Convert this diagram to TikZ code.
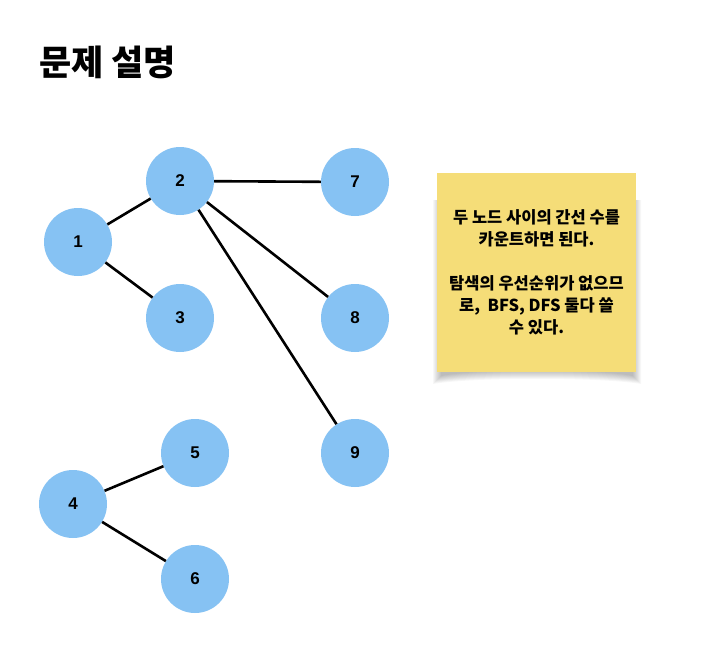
\documentclass[tikz,border=0pt]{standalone}
\usepackage{fontspec}
\setmainfont{Noto Sans CJK KR}
\newfontfamily\digitfont{Liberation Sans}
\definecolor{nodeblue}{RGB}{134,194,243}
\definecolor{stickyyellow}{RGB}{245,221,120}
\begin{document}
\begin{tikzpicture}[x=1pt,y=-1pt,
  vert/.style={circle,fill=nodeblue,minimum size=68pt,inner sep=0pt,font=\digitfont\fontsize{17}{19}\selectfont\bfseries},
  edge/.style={line width=2.6pt,black},
  shadowlayer/.style={fill=black,fill opacity=0.03,draw=none}]
\useasboundingbox[fill=white] (0,0) rectangle (713,651);
\node[anchor=west,inner sep=0pt,font=\fontsize{35}{38}\selectfont\bfseries] (title) at (39,62) {문제 설명};
\node[vert] (n1) at (78,242) {1};
\node[vert] (n2) at (180,181) {2};
\node[vert] (n3) at (180,318) {3};
\node[vert] (n7) at (355,182) {7};
\node[vert] (n8) at (355,318) {8};
\node[vert] (n9) at (355,453) {9};
\node[vert] (n5) at (195,453) {5};
\node[vert] (n4) at (73,504) {4};
\node[vert] (n6) at (195,579) {6};
\draw[edge] (n1) -- (n2);
\draw[edge] (n1) -- (n3);
\draw[edge] (n2) -- (n7);
\draw[edge] (n2) -- (n8);
\draw[edge] (n2) -- (n9);
\draw[edge] (n4) -- (n5);
\draw[edge] (n4) -- (n6);
% soft curled shadow under the sticky note
\foreach \i in {0,...,8}{
  \fill[shadowlayer]
    (441-\i,200) -- (633+\i,200) -- (633+\i,376+\i) .. controls (600,369+\i) and (474,369+\i) .. (441-\i,376+\i) -- cycle;
}
\node[fill=stickyyellow,minimum width=199pt,minimum height=199pt,inner sep=0pt,
  align=center,font=\fontsize{16.5}{22}\selectfont\bfseries] (note) at (536.5,272.5)
  {두 노드 사이의 간선 수를\\카운트하면 된다.\\[22pt]탐색의 우선순위가 없으므\\로,\ \ BFS, DFS 둘다 쓸\\수 있다.};
\end{tikzpicture}
\end{document}
